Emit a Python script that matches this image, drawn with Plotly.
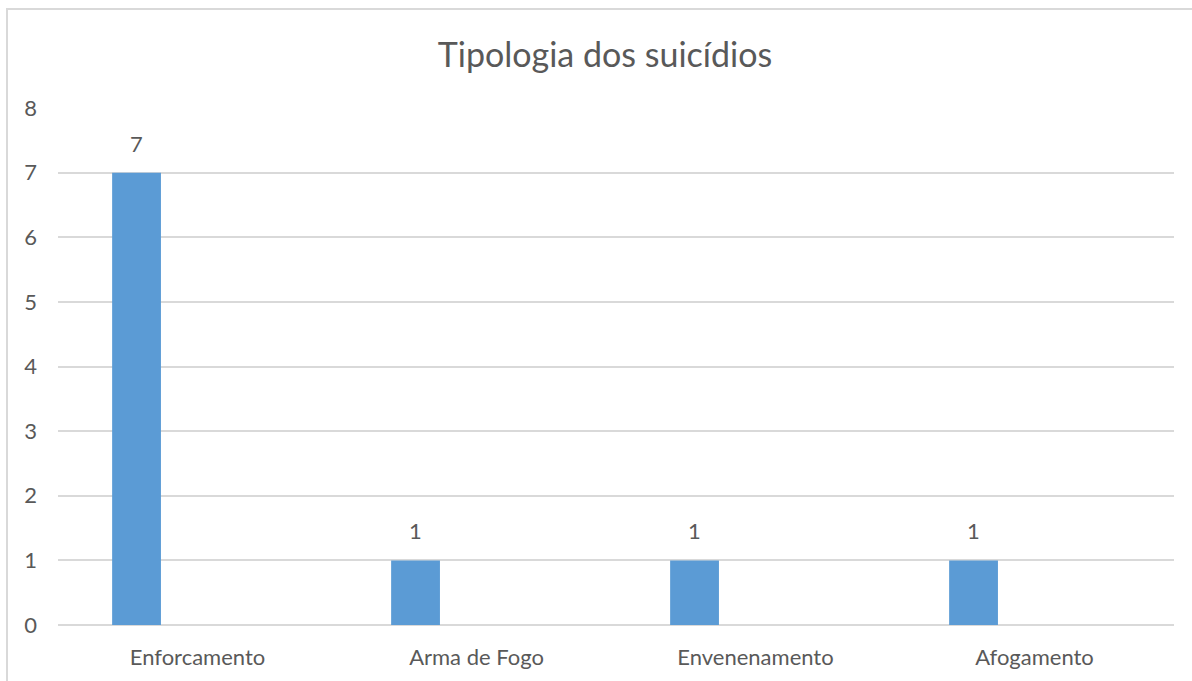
import plotly.graph_objects as go

categories = ["Enforcamento", "Arma de Fogo", "Envenenamento", "Afogamento"]
values = [7, 1, 1, 1]
y_ticks = [0, 1, 2, 3, 4, 5, 6, 7, 8]
title_text = "Tipologia dos suicídios"

FONT = "Lato"
TXT = "#595959"
GRID = "#d9d9d9"
BAR = "#5b9bd5"

W, H = 1192, 681
L, R, T, B = 58, 18, 108, 56
pw = W - L - R
ph = H - T - B

BAR_W = 0.175
BAR_OFF = -0.306

fig = go.Figure()
fig.add_trace(go.Bar(
    x=categories, y=values,
    width=BAR_W, offset=BAR_OFF,
    marker=dict(color=BAR, line=dict(width=0)),
    hoverinfo="x+y",
))

annotations = [
    dict(x=i + BAR_OFF + BAR_W / 2, y=v, xref="x", yref="y", text=str(v),
         showarrow=False, yanchor="bottom", yshift=14,
         font=dict(family=FONT, size=22, color=TXT))
    for i, v in enumerate(values)
]

def px_x(p):
    return (p - L) / pw

def px_y(p):
    return (H - B - p) / ph

fig.update_layout(
    width=W, height=H,
    margin=dict(l=L, r=R, t=T, b=B),
    paper_bgcolor="white", plot_bgcolor="white",
    showlegend=False,
    title=dict(text=title_text, x=605 / W, xanchor="center", y=1 - 55 / H, yanchor="middle",
               font=dict(family=FONT, size=34, color=TXT)),
    xaxis=dict(showgrid=False, showline=False, zeroline=False, ticks="",
               tickfont=dict(family=FONT, size=22, color=TXT), ticklabelstandoff=17),
    yaxis=dict(range=[0, 8], tickvals=y_ticks, showgrid=True, gridcolor=GRID, gridwidth=2,
               zeroline=True, zerolinecolor=GRID, zerolinewidth=2, showline=False, ticks="",
               tickfont=dict(family=FONT, size=22, color=TXT), ticklabelstandoff=20),
    annotations=annotations,
    shapes=[dict(type="rect", xref="paper", yref="paper",
                 x0=px_x(7), x1=px_x(1200), y0=px_y(700), y1=px_y(9),
                 line=dict(color=GRID, width=2), layer="below")],
    font=dict(family=FONT, color=TXT),
)

fig.write_html("out.html")
